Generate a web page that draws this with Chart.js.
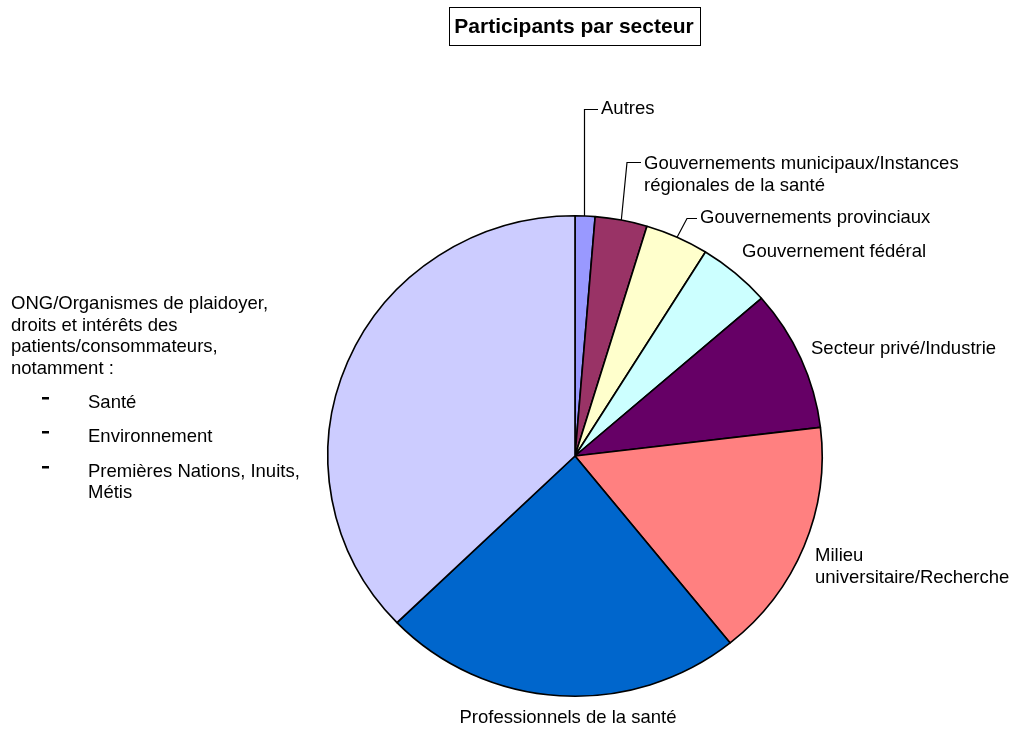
<!DOCTYPE html>
<html>
<head>
<meta charset="utf-8">
<script src="https://cdn.jsdelivr.net/npm/chart.js@4"></script>
<style>
    html, body { margin: 0; padding: 0; background: #ffffff; overflow: hidden; }
    #chartDiv { width: 1014px; height: 730px; }
</style>
</head>
<body>
<div id="chartDiv"><canvas id="pieChartSecteur" width="1014" height="730"></canvas></div>
<script>
// secteurs, dans l'ordre des aiguilles d'une montre depuis le haut
const sectorNames = [
    'Autres',
    'Gouvernements municipaux/Instances régionales de la santé',
    'Gouvernements provinciaux',
    'Gouvernement fédéral',
    'Secteur privé/Industrie',
    'Milieu universitaire/Recherche',
    'Professionnels de la santé',
    'ONG/Organismes de plaidoyer'
];
const sectorValues = [1.3, 3.4, 4.15, 4.75, 9.5, 16.1, 23.6, 37.2];
const sectorColors = ['#9999FF', '#993366', '#FFFFCC', '#CCFFFF', '#660066', '#FF8080', '#0066CC', '#CCCCFF'];

// textes des étiquettes (plusieurs lignes)
const labelLines = [
    ['Autres'],
    ['Gouvernements municipaux/Instances', 'régionales de la santé'],
    ['Gouvernements provinciaux'],
    ['Gouvernement fédéral'],
    ['Secteur privé/Industrie'],
    ['Milieu', 'universitaire/Recherche'],
    ['Professionnels de la santé'],
    ['ONG/Organismes de plaidoyer,', 'droits et intérêts des', 'patients/consommateurs,', 'notamment :']
];
const ongItems = ['Santé', 'Environnement', 'Premières Nations, Inuits,|Métis'];
const chartTitle = 'Participants par secteur';

const FONT = '"Liberation Sans", Arial, sans-serif';
const STRETCH_X = 248 / 241; // le camembert de référence est un peu plus large que haut

// position des étiquettes : x, y (centre 1re ligne), alignement, coude de la ligne de rappel
const labelPos = [
    { x: 601, y: 109, align: 'left', elbow: { x: 584.5, y: 109.5 }, end: 598 },
    { x: 644, y: 164, align: 'left', elbow: { x: 627, y: 162.5 }, end: 641 },
    { x: 700, y: 218, align: 'left', elbow: { x: 687, y: 218.5 }, end: 697 },
    { x: 742, y: 252, align: 'left' },
    { x: 811, y: 349, align: 'left' },
    { x: 815, y: 556, align: 'left' },
    { x: 568, y: 718, align: 'center' },
    { x: 11, y: 304, align: 'left' }
];

const stretchPlugin = {
    id: 'stretchPie',
    beforeDatasetsDraw(chart) {
        const a = chart.getDatasetMeta(0).data[0];
        const ctx = chart.ctx;
        ctx.save();
        ctx.translate(a.x, a.y);
        ctx.scale(STRETCH_X, 1);
        ctx.translate(-a.x, -a.y);
    },
    afterDatasetsDraw(chart) {
        chart.ctx.restore();
    }
};

const labelsPlugin = {
    id: 'pieLabels',
    afterDraw(chart) {
        const ctx = chart.ctx;
        const arcs = chart.getDatasetMeta(0).data;
        ctx.save();

        // titre encadré
        ctx.font = 'bold 21px ' + FONT;
        ctx.textAlign = 'center';
        ctx.textBaseline = 'middle';
        ctx.fillStyle = '#000';
        ctx.fillText(chartTitle, 574, 27);
        ctx.strokeStyle = '#000';
        ctx.lineWidth = 1;
        ctx.strokeRect(449.5, 7.5, 251, 38);

        ctx.font = '18.5px ' + FONT;
        labelLines.forEach((lines, i) => {
            const p = labelPos[i];
            if (p.elbow) {
                const a = arcs[i];
                const mid = (a.startAngle + a.endAngle) / 2;
                let sx = a.x + Math.cos(mid) * a.outerRadius * STRETCH_X;
                const sy = a.y + Math.sin(mid) * a.outerRadius;
                if (i === 0) sx = p.elbow.x; // ligne bien verticale pour "Autres"
                ctx.beginPath();
                ctx.moveTo(sx, sy);
                ctx.lineTo(p.elbow.x, p.elbow.y);
                ctx.lineTo(p.end, p.elbow.y);
                ctx.lineWidth = 1.2;
                ctx.stroke();
            }
            ctx.textAlign = p.align;
            lines.forEach((t, j) => {
                ctx.fillText(t, p.x, p.y + j * 21.5);
            });
        });

        // liste sous ONG
        const itemY = [403, 437, 472];
        ongItems.forEach((item, k) => {
            ctx.fillRect(42, itemY[k] - 6, 7, 2.5);
            ctx.font = '18.5px ' + FONT;
            ctx.textAlign = 'left';
            item.split('|').forEach((t, j) => {
                ctx.fillText(t, 88, itemY[k] + j * 20.5);
            });
        });

        ctx.restore();
    }
};

var ctx = document.getElementById('pieChartSecteur');

const pieChartSecteur = new Chart(ctx, {
    type: 'pie',
    data: {
        labels: sectorNames,
        datasets: [{
            data: sectorValues,
            backgroundColor: sectorColors,
            borderColor: '#000000',
            borderWidth: 1.6
        }]
    },
    options: {
        responsive: false,
        animation: false,
        layout: {
            padding: { left: 334, right: 198, top: 215, bottom: 33 }
        },
        plugins: {
            legend: { display: false },
            tooltip: { enabled: false },
            title: { display: false }
        }
    },
    plugins: [stretchPlugin, labelsPlugin]
});
</script>
</body>
</html>
